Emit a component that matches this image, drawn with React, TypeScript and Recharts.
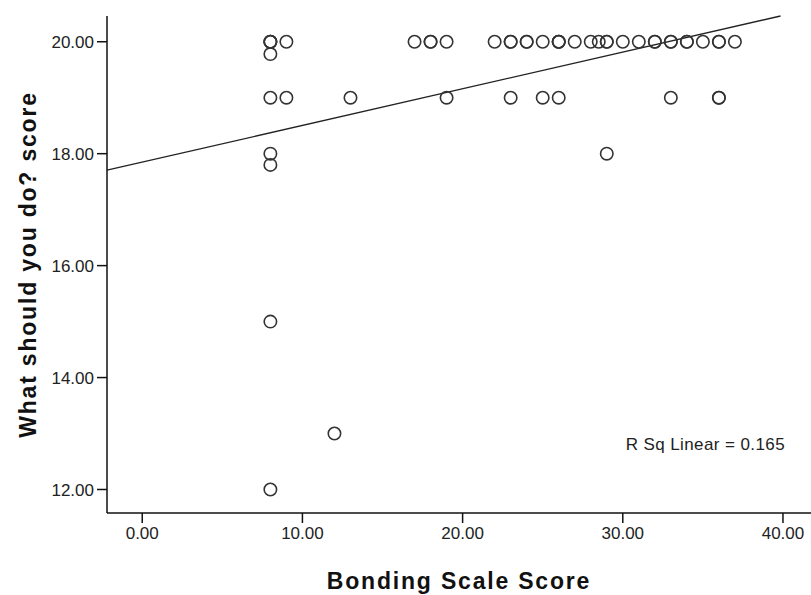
import { ScatterChart, Scatter, XAxis, YAxis, ReferenceLine } from "recharts";

// bonding scale score vs "what should you do?" score
const bondingScores = [
  8, 8, 8, 9, 17, 18, 18, 19, 22, 23, 23, 24, 24, 25, 26, 26, 26, 27, 28, 28.5, 29, 29, 30, 31, 32, 32, 33, 33, 34, 34, 35, 36, 36, 37,
  8,
  8, 9, 13, 19, 23, 25, 26, 33, 36, 36,
  8, 29,
  8,
  8,
  12,
  8,
];
const whatScores = [
  20, 20, 20, 20, 20, 20, 20, 20, 20, 20, 20, 20, 20, 20, 20, 20, 20, 20, 20, 20, 20, 20, 20, 20, 20, 20, 20, 20, 20, 20, 20, 20, 20, 20,
  19.78,
  19, 19, 19, 19, 19, 19, 19, 19, 19, 19,
  18, 18,
  17.8,
  15,
  13,
  12,
];

const xTicks = [0, 10, 20, 30, 40];
const yTicks = [12, 14, 16, 18, 20];

// fit line (R sq = 0.165)
const fitIntercept = 17.85;
const fitSlope = 0.0655;
const rSqText = "R Sq Linear = 0.165";

const X_MIN = -2.2;
const X_MAX = 41.75;
const Y_MIN = 11.58;
const Y_MAX = 20.46;

const points = bondingScores.map((x, i) => ({ x, y: whatScores[i] }));

const xAtTop = (Y_MAX - fitIntercept) / fitSlope;
const fitSegment = [
  { x: X_MIN, y: fitIntercept + fitSlope * X_MIN },
  { x: xAtTop, y: Y_MAX },
];

const FONT = '"Liberation Sans", Arial, sans-serif';
const tickStyle = { fontSize: 17, fill: "#222", fontFamily: FONT };
const titleStyle = { fontSize: 23, fontWeight: 700, fill: "#111", fontFamily: FONT, letterSpacing: 1.8, textAnchor: "middle" as const };

const OpenCircle = (props: any) => (
  <circle cx={props.cx} cy={props.cy} r={6.2} fill="none" stroke="#333" strokeWidth={1.6} />
);

export default function App() {
  return (
    <div style={{ position: "absolute", left: 0, top: 0, width: 811, height: 595, background: "#fff" }}>
      <ScatterChart width={811} height={595} margin={{ top: 16, right: 0, bottom: 0, left: 0 }}>
        <XAxis
          xAxisId="top"
          orientation="top"
          type="number"
          domain={[X_MIN, X_MAX]}
          allowDataOverflow
          height={0}
          tick={false}
          tickLine={false}
          axisLine={{ stroke: "#111", strokeWidth: 1.5 }}
        />
        <XAxis
          type="number"
          dataKey="x"
          domain={[X_MIN, X_MAX]}
          allowDataOverflow
          ticks={xTicks}
          tickFormatter={(v: number) => v.toFixed(2)}
          height={82}
          tickSize={10}
          tickMargin={4}
          tick={tickStyle}
          axisLine={{ stroke: "#111", strokeWidth: 1.5 }}
          tickLine={{ stroke: "#111", strokeWidth: 1.5 }}
          label={{ value: "Bonding Scale Score", position: "insideBottom", offset: 6, style: titleStyle }}
        />
        <YAxis
          type="number"
          dataKey="y"
          domain={[Y_MIN, Y_MAX]}
          allowDataOverflow
          ticks={yTicks}
          tickFormatter={(v: number) => v.toFixed(2)}
          width={107}
          tickSize={10}
          tickMargin={3}
          tick={tickStyle}
          axisLine={{ stroke: "#111", strokeWidth: 1.5 }}
          tickLine={{ stroke: "#111", strokeWidth: 1.5 }}
          label={{ value: "What should you do? score", angle: -90, position: "insideLeft", offset: 28, style: titleStyle }}
        />
        <ReferenceLine segment={fitSegment} stroke="#222" strokeWidth={1.3} ifOverflow="visible" />
        <Scatter data={points} shape={OpenCircle} isAnimationActive={false} />
      </ScatterChart>
      <div
        style={{
          position: "absolute",
          right: 26,
          top: 435,
          fontFamily: FONT,
          fontSize: 17,
          letterSpacing: 0.4,
          color: "#222",
          whiteSpace: "nowrap",
        }}
      >
        {rSqText}
      </div>
    </div>
  );
}
